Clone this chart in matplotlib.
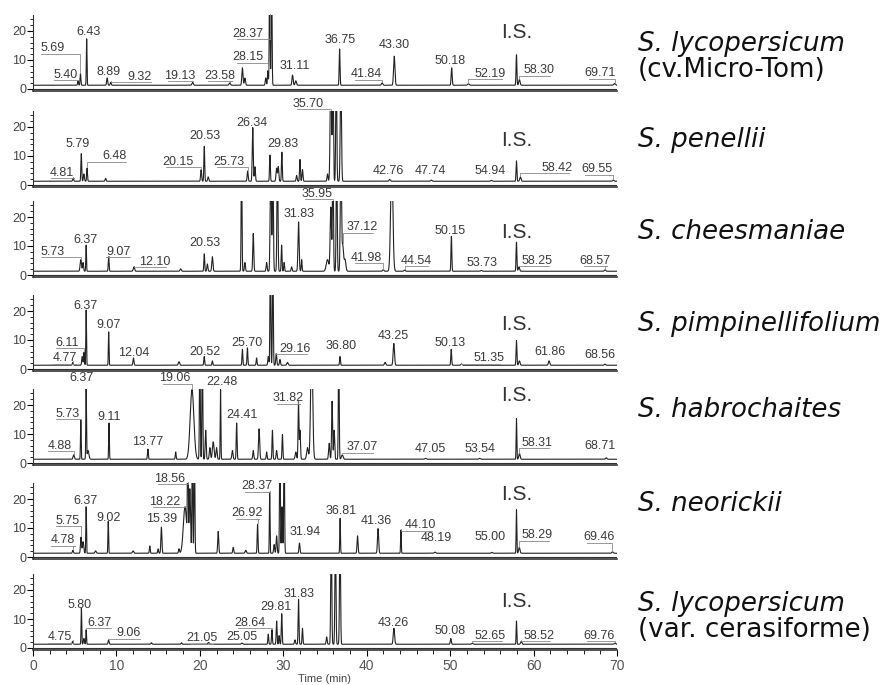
import numpy as np
import matplotlib.pyplot as plt
from matplotlib.ticker import MultipleLocator

# peaks: (retention time min, height, width min); heights > 25 run off the scale
peaks_1 = [(5.40, 1.5, 0.05), (5.69, 4.0, 0.05), (6.43, 16.0, 0.04), (8.89, 2.5, 0.06), (9.32, 1.0, 0.06),
           (19.13, 1.0, 0.08), (23.58, 0.8, 0.08), (25.1, 6.0, 0.07), (25.4, 2.5, 0.07), (27.9, 2.5, 0.06),
           (28.15, 5.0, 0.05), (28.37, 40, 0.05), (28.6, 40, 0.05), (31.11, 3.5, 0.07), (31.5, 1.5, 0.08),
           (36.75, 12.5, 0.05), (41.84, 0.8, 0.08), (43.30, 10.0, 0.08), (50.18, 6.0, 0.06), (52.19, 0.5, 0.1),
           (57.95, 10.5, 0.05), (58.30, 2.0, 0.08), (69.71, 0.6, 0.1)]
peaks_2 = [(4.81, 1.0, 0.06), (5.79, 9.5, 0.05), (6.1, 2.5, 0.06), (6.48, 4.5, 0.05), (8.7, 1.0, 0.06),
           (20.15, 4.0, 0.06), (20.53, 12.0, 0.05), (21.0, 1.5, 0.06), (25.73, 3.5, 0.06), (26.34, 18.5, 0.06),
           (26.6, 5.0, 0.06), (28.4, 9.0, 0.05), (29.2, 4.5, 0.07), (29.4, 5.0, 0.06), (29.83, 10.0, 0.05),
           (31.6, 2.0, 0.06), (32.0, 7.5, 0.05), (32.3, 4.0, 0.06), (35.3, 2.5, 0.06), (35.70, 40, 0.08),
           (35.95, 40, 0.06), (36.35, 40, 0.06), (36.9, 40, 0.07), (42.76, 0.6, 0.08), (47.74, 0.4, 0.08),
           (54.94, 0.3, 0.08), (57.95, 7.0, 0.05), (58.42, 1.5, 0.08), (69.55, 0.4, 0.08)]
peaks_3 = [(5.73, 4.0, 0.08), (6.0, 3.0, 0.06), (6.37, 9.0, 0.04), (9.07, 5.0, 0.05), (12.10, 1.5, 0.08),
           (17.7, 0.8, 0.08), (20.53, 6.0, 0.05), (20.9, 2.5, 0.06), (21.5, 5.0, 0.07), (25.0, 40, 0.05),
           (25.4, 3.0, 0.06), (26.4, 13.0, 0.06), (28.0, 3.0, 0.06), (28.5, 40, 0.07), (28.75, 40, 0.06),
           (29.3, 40, 0.06), (29.8, 9.0, 0.05), (30.1, 3.0, 0.05), (31.0, 1.5, 0.06), (31.83, 17.0, 0.07),
           (32.2, 4.0, 0.05), (35.3, 4.0, 0.15), (35.7, 22.0, 0.08), (35.95, 40, 0.06), (36.4, 40, 0.06),
           (36.9, 40, 0.07), (37.12, 9.0, 0.1), (37.4, 4.0, 0.1), (41.98, 0.5, 0.08), (43.0, 40, 0.13),
           (44.54, 0.4, 0.08), (50.15, 12.0, 0.05), (53.73, 0.3, 0.08), (57.95, 10.0, 0.05), (58.25, 1.5, 0.08),
           (68.57, 0.5, 0.08)]
peaks_4 = [(4.77, 1.0, 0.06), (5.9, 3.0, 0.06), (6.11, 4.5, 0.05), (6.37, 19.0, 0.04), (9.07, 11.5, 0.04),
           (12.04, 2.5, 0.06), (17.5, 1.2, 0.08), (20.52, 3.0, 0.05), (21.5, 1.5, 0.05), (25.1, 5.5, 0.05),
           (25.70, 6.0, 0.05), (26.8, 2.5, 0.05), (28.2, 3.0, 0.06), (28.45, 40, 0.05), (28.75, 40, 0.05),
           (29.16, 4.0, 0.06), (29.6, 2.0, 0.06), (30.5, 1.0, 0.08), (36.80, 3.0, 0.05), (42.2, 1.0, 0.08),
           (43.25, 7.5, 0.08), (50.13, 5.5, 0.05), (51.35, 0.4, 0.08), (57.95, 8.5, 0.05), (58.3, 1.5, 0.08),
           (61.86, 1.5, 0.08), (68.56, 0.4, 0.08)]
peaks_5 = [(4.88, 1.5, 0.08), (5.73, 13.5, 0.04), (6.37, 24.0, 0.04), (6.6, 3.0, 0.1), (9.11, 12.5, 0.04),
           (13.77, 3.5, 0.05), (17.1, 2.5, 0.05), (19.06, 24.0, 0.22), (20.0, 40, 0.05), (20.3, 40, 0.05),
           (20.7, 10.0, 0.06), (21.2, 4.0, 0.07), (21.6, 6.0, 0.1), (22.0, 4.0, 0.07), (22.48, 24.0, 0.04),
           (23.9, 3.0, 0.07), (24.41, 12.5, 0.05), (26.4, 3.0, 0.06), (27.1, 10.5, 0.07), (28.0, 2.5, 0.05),
           (28.7, 10.0, 0.05), (29.2, 3.0, 0.06), (29.9, 8.5, 0.05), (31.5, 2.5, 0.08), (31.82, 20.0, 0.05),
           (32.0, 10.0, 0.06), (32.9, 4.0, 0.1), (33.4, 40, 0.12), (35.5, 5.5, 0.07), (35.85, 20.0, 0.06),
           (36.1, 10.0, 0.06), (36.65, 40, 0.05), (37.07, 1.5, 0.1), (47.05, 0.3, 0.08), (53.54, 0.3, 0.08),
           (57.95, 14.0, 0.04), (58.31, 2.0, 0.08), (68.71, 0.5, 0.08)]
peaks_6 = [(4.78, 1.0, 0.06), (5.75, 5.5, 0.06), (6.0, 4.0, 0.08), (6.37, 16.0, 0.04), (7.5, 0.8, 0.08),
           (9.02, 11.0, 0.04), (12.0, 0.8, 0.08), (14.0, 2.5, 0.05), (15.0, 1.5, 0.05), (15.39, 9.0, 0.06),
           (17.5, 1.5, 0.06), (18.22, 16.0, 0.2), (18.56, 40, 0.05), (18.8, 22.0, 0.08), (19.1, 40, 0.05),
           (19.35, 40, 0.05), (22.2, 7.5, 0.06), (24.0, 2.0, 0.06), (25.5, 1.0, 0.08), (26.92, 10.0, 0.05),
           (28.37, 21.0, 0.04), (28.9, 3.0, 0.06), (29.2, 6.0, 0.06), (29.6, 40, 0.05), (29.85, 16.0, 0.06),
           (30.1, 40, 0.05), (31.94, 3.5, 0.06), (36.81, 12.0, 0.04), (38.9, 6.0, 0.06), (41.36, 8.5, 0.07),
           (44.10, 8.0, 0.04), (48.19, 0.4, 0.08), (55.00, 0.3, 0.08), (57.95, 15.0, 0.04), (58.29, 2.0, 0.08),
           (69.46, 0.5, 0.08)]
peaks_7 = [(4.75, 1.0, 0.06), (5.80, 12.5, 0.04), (6.1, 2.0, 0.06), (6.37, 5.0, 0.04), (9.06, 1.5, 0.06),
           (14.2, 0.5, 0.06), (17.8, 0.5, 0.06), (21.05, 0.6, 0.08), (25.05, 0.4, 0.08), (28.2, 3.5, 0.05),
           (28.64, 5.0, 0.05), (29.2, 8.0, 0.05), (29.5, 3.0, 0.05), (29.81, 10.5, 0.05), (31.4, 1.5, 0.06),
           (31.83, 15.5, 0.05), (32.3, 5.5, 0.05), (35.2, 2.5, 0.06), (35.75, 40, 0.06), (36.25, 40, 0.06),
           (36.8, 40, 0.06), (43.26, 5.5, 0.08), (50.08, 2.0, 0.06), (52.65, 0.3, 0.08), (57.95, 8.0, 0.04),
           (58.52, 1.0, 0.08), (69.76, 0.4, 0.08)]

# peak labels: (text, label x, label y, peak time)
labels_1 = [("5.40", 3.9, 4.9, 5.40), ("5.69", 2.3, 14.0, 5.69), ("6.43", 6.6, 19.5, 6.43), ("8.89", 9.0, 6.0, 8.89),
            ("9.32", 12.8, 4.2, 9.32), ("19.13", 17.6, 4.5, 19.13), ("23.58", 22.4, 4.5, 23.58),
            ("28.15", 25.8, 11.0, 28.15), ("28.37", 25.8, 19.0, 28.37), ("31.11", 31.4, 8.0, 31.11),
            ("36.75", 36.8, 17.0, 36.75), ("41.84", 40.0, 5.0, 41.84), ("43.30", 43.3, 15.0, 43.30),
            ("50.18", 50.0, 9.7, 50.18), ("52.19", 54.8, 5.2, 52.19), ("58.30", 60.6, 6.5, 58.30),
            ("69.71", 68.0, 5.5, 69.71)]
labels_2 = [("4.81", 3.5, 4.3, 4.81), ("5.79", 5.3, 14.0, 5.79), ("6.48", 9.8, 10.0, 6.48), ("20.15", 17.4, 8.0, 20.15),
            ("20.53", 20.6, 17.0, 20.53), ("25.73", 23.5, 8.0, 25.73), ("26.34", 26.3, 21.5, 26.34),
            ("29.83", 29.9, 14.0, 29.83), ("35.70", 33.0, 28.0, 35.70), ("42.76", 42.6, 5.0, 42.76),
            ("47.74", 47.6, 5.0, 47.74), ("54.94", 54.8, 5.0, 54.94), ("58.42", 62.8, 6.0, 58.42),
            ("69.55", 67.6, 5.5, 69.55)]
labels_3 = [("5.73", 2.4, 8.0, 5.73), ("6.37", 6.3, 12.0, 6.37), ("9.07", 10.2, 8.0, 9.07), ("12.10", 14.6, 4.5, 12.10),
            ("20.53", 20.6, 11.0, 20.53), ("31.83", 31.9, 21.0, 31.83), ("35.95", 34.0, 28.0, 35.95),
            ("37.12", 39.4, 16.5, 37.12), ("41.98", 40.0, 6.0, 41.98), ("44.54", 46.0, 5.0, 44.54),
            ("50.15", 50.0, 15.0, 50.15), ("53.73", 53.8, 4.0, 53.73), ("58.25", 60.4, 5.0, 58.25),
            ("68.57", 67.4, 5.0, 68.57)]
labels_4 = [("4.77", 3.8, 3.7, 4.77), ("6.11", 4.1, 9.0, 6.11), ("6.37", 6.3, 21.7, 6.37), ("9.07", 9.1, 15.0, 9.07),
            ("12.04", 12.1, 5.5, 12.04), ("20.52", 20.6, 6.0, 20.52), ("25.70", 25.6, 9.0, 25.70),
            ("29.16", 31.4, 7.0, 29.16), ("36.80", 36.9, 8.0, 36.80), ("43.25", 43.2, 11.5, 43.25),
            ("50.13", 50.0, 9.0, 50.13), ("51.35", 54.6, 3.7, 51.35), ("61.86", 62.0, 6.0, 61.86),
            ("68.56", 67.9, 5.0, 68.56)]
labels_5 = [("4.88", 3.2, 6.0, 4.88), ("5.73", 4.2, 17.0, 5.73), ("6.37", 5.8, 29.3, 6.37), ("9.11", 9.1, 16.0, 9.11),
            ("13.77", 13.8, 7.3, 13.77), ("19.06", 17.0, 29.3, 19.06), ("22.48", 22.6, 28.0, 22.48),
            ("24.41", 25.0, 16.5, 24.41), ("31.82", 30.6, 22.4, 31.82), ("37.07", 39.4, 5.5, 37.07),
            ("47.05", 47.6, 5.0, 47.05), ("53.54", 53.6, 5.0, 53.54), ("58.31", 60.4, 7.0, 58.31),
            ("68.71", 68.0, 6.0, 68.71)]
labels_6 = [("4.78", 3.6, 5.8, 4.78), ("5.75", 4.2, 12.5, 5.75), ("6.37", 6.3, 19.3, 6.37), ("9.02", 9.0, 13.6, 9.02),
            ("15.39", 15.4, 13.0, 15.39), ("18.22", 15.8, 19.0, 18.22), ("18.56", 16.4, 27.0, 18.56),
            ("26.92", 25.7, 15.0, 26.92), ("28.37", 26.8, 24.4, 28.37), ("31.94", 32.6, 8.5, 31.94),
            ("36.81", 36.9, 16.0, 36.81), ("41.36", 41.2, 12.5, 41.36), ("44.10", 46.4, 11.0, 44.10),
            ("48.19", 48.4, 6.4, 48.19), ("55.00", 54.8, 6.8, 55.00), ("58.29", 60.4, 7.5, 58.29),
            ("69.46", 67.8, 6.8, 69.46)]
labels_7 = [("4.75", 3.2, 3.7, 4.75), ("5.80", 5.6, 15.0, 5.80), ("6.37", 8.0, 8.7, 6.37), ("9.06", 11.4, 5.0, 9.06),
            ("21.05", 20.2, 3.3, 21.05), ("25.05", 25.0, 3.8, 25.05), ("28.64", 26.0, 8.7, 28.64),
            ("29.81", 29.1, 14.3, 29.81), ("31.83", 31.9, 18.7, 31.83), ("43.26", 43.2, 8.7, 43.26),
            ("50.08", 50.0, 6.0, 50.08), ("52.65", 54.8, 4.3, 52.65), ("58.52", 60.6, 4.3, 58.52),
            ("69.76", 67.8, 4.3, 69.76)]

species = ["S. lycopersicum", "S. penellii", "S. cheesmaniae", "S. pimpinellifolium",
           "S. habrochaites", "S. neorickii", "S. lycopersicum"]
species_sub = ["(cv.Micro-Tom)", "", "", "", "", "", "(var. cerasiforme)"]
is_height = [19.5, 15.4, 14.7, 15.5, 23.4, 21.7, 16.0]
species_y = [15.4, 15.5, 14.7, 15.6, 18.3, 18.3, 15.3]

all_peaks = [peaks_1, peaks_2, peaks_3, peaks_4, peaks_5, peaks_6, peaks_7]
all_labels = [labels_1, labels_2, labels_3, labels_4, labels_5, labels_6, labels_7]

W, H = 885, 685
zero_px = [89, 185, 275, 369, 463, 557, 648]
ymin, ymax = -0.8, 25.6
px_unit = 2.9
baseline = 1.3

fig = plt.figure(figsize=(W / 100, H / 100), dpi=100)
t = np.linspace(0, 70, 14001)
num_font = "Liberation Sans"

for i, (peaks, labels) in enumerate(zip(all_peaks, all_labels)):
    bottom_px = zero_px[i] - ymin * px_unit
    ax = fig.add_axes([33 / W, 1 - bottom_px / H, 584 / W, (ymax - ymin) * px_unit / H])
    sig = np.full_like(t, baseline)
    for pt, ph, pw in peaks:
        sig += ph * np.exp(-0.5 * ((t - pt) / pw) ** 2)
    ax.plot(t, sig, color="#222222", lw=0.8)
    ax.axhline(0, color="#333333", lw=0.8)
    ax.set_xlim(0, 70)
    ax.set_ylim(ymin, ymax)
    for s in ["top", "right"]:
        ax.spines[s].set_visible(False)
    ax.spines["bottom"].set_linewidth(1.2)
    ax.spines["bottom"].set_color("#333333")
    ax.spines["left"].set_color("#333333")
    ax.spines["left"].set_linewidth(0.8)
    ax.yaxis.set_major_locator(MultipleLocator(10))
    ax.yaxis.set_minor_locator(MultipleLocator(2))
    ax.tick_params(axis="y", which="major", length=4, width=0.8, labelsize=9, labelcolor="#444444", pad=1)
    ax.tick_params(axis="y", which="minor", length=2.5, width=0.6)
    for lab in ax.get_yticklabels():
        lab.set_fontfamily(num_font)

    if i == len(all_peaks) - 1:
        ax.xaxis.set_major_locator(MultipleLocator(10))
        ax.xaxis.set_minor_locator(MultipleLocator(2))
        ax.tick_params(axis="x", which="major", length=4, width=0.8, labelsize=10, labelcolor="#555555", pad=2)
        ax.tick_params(axis="x", which="minor", length=3, width=0.6)
        for lab in ax.get_xticklabels():
            lab.set_fontfamily(num_font)
        ax.set_xlabel("Time (min)", fontsize=8, color="#444444", labelpad=1, family=num_font)
    else:
        ax.tick_params(axis="x", which="both", bottom=False, labelbottom=False)

    for text, lx, ly, pt in labels:
        ax.text(lx, ly, text, fontsize=9, color="#3a3a3a", ha="center", va="center",
                family=num_font, clip_on=False)
        if abs(lx - pt) > 0.8:
            top = min(np.interp(pt, t, sig), ymax) + 0.3
            uy = ly - 1.9
            ux = lx + 1.4 if pt > lx else lx - 1.4
            ax.plot([lx - 1.4, lx + 1.4], [uy, uy], color="#888888", lw=0.6, clip_on=False)
            ax.plot([ux, pt, pt], [uy, uy, top], color="#888888", lw=0.6, clip_on=False)

    ax.text(58.0, is_height[i], "I.S.", fontsize=15, color="#333333", ha="center", va="center",
            family=num_font, clip_on=False)
    ax.text(72.5, species_y[i], species[i], fontsize=18.8, style="italic", color="#111111",
            ha="left", va="center", clip_on=False)
    if species_sub[i]:
        ax.text(72.5, species_y[i] - 9.0, species_sub[i], fontsize=18.8, color="#111111",
                ha="left", va="center", clip_on=False)

fig.savefig("out.png", dpi=100)
